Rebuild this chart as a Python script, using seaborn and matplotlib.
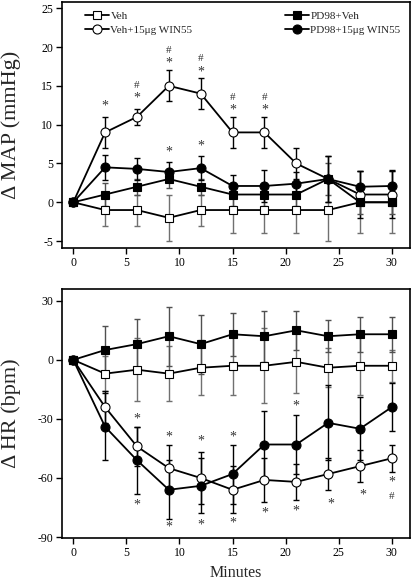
import numpy as np
import pandas as pd
import matplotlib
matplotlib.use("Agg")
import matplotlib.pyplot as plt
import seaborn as sns
from matplotlib.lines import Line2D

minutes = [0, 3, 6, 9, 12, 15, 18, 21, 24, 27, 30]
series_names = ["Veh", "Veh+15\u03bcg WIN55", "PD98+Veh", "PD98+15\u03bcg WIN55"]

# MAP (mmHg)
map_veh = [0, -1, -1, -2, -1, -1, -1, -1, -1, 0, 0]
map_veh_err = [0, 2, 2, 3, 2, 3, 3, 3, 4, 4, 4]
map_win = [0, 9, 11, 15, 14, 9, 9, 5, 3, 1, 1]
map_win_err = [0, 2, 1, 2, 2, 2, 2, 2, 3, 3, 3]
map_pd = [0, 1, 2, 3, 2, 1, 1, 1, 3, 0, 0]
map_pd_err = [0, 1.5, 1, 1.2, 1, 1.5, 1.5, 1.5, 2, 1.5, 1.5]
map_pdwin = [0, 4.5, 4.3, 3.9, 4.4, 2.1, 2.1, 2.4, 3, 2, 2.1]
map_pdwin_err = [0, 1.6, 1.4, 1.3, 1.5, 1.4, 2, 1.5, 3, 2, 2]

# HR (bpm)
hr_veh = [0, -7, -5, -7, -4, -3, -3, -1, -4, -3, -3]
hr_veh_err = [0, 9, 16, 14, 14, 15, 19, 16, 10, 15, 8]
hr_win = [0, -24, -44, -55, -60, -66, -61, -62, -58, -54, -50]
hr_win_err = [0, 8, 10, 12, 13, 12, 11, 9, 8, 8, 7]
hr_pd = [0, 5, 8, 12, 8, 13, 12, 15, 12, 13, 13]
hr_pd_err = [0, 12, 13, 15, 15, 11, 13, 10, 8, 9, 9]
hr_pdwin = [0, -34, -51, -66, -64, -58, -43, -43, -32, -35, -24]
hr_pdwin_err = [0, 17, 17, 15, 14, 15, 17, 15, 19, 16, 12]

# significance marks: (minute, value, symbol)
map_marks = [(3, 12.4, "*"), (6, 13.4, "*"), (6, 15.1, "#"), (9, 17.9, "*"), (9, 19.6, "#"),
             (12, 16.8, "*"), (12, 18.5, "#"), (15, 11.9, "*"), (15, 13.5, "#"),
             (18, 11.9, "*"), (18, 13.5, "#"), (9, 6.5, "*"), (12, 7.3, "*")]
hr_marks = [(6, -30, "*"), (6, -74, "*"), (9, -39, "*"), (9, -85, "*"), (12, -41.4, "*"),
            (12, -83.7, "*"), (15, -39, "*"), (15, -83, "*"), (18, -77.8, "*"),
            (21, -23.6, "*"), (21, -77, "*"), (24.3, -73.5, "*"), (27.3, -68.5, "*"),
            (30, -62.2, "*"), (30, -69.3, "#")]

sns.set_theme(style="white")
plt.rcParams["font.family"] = ["Liberation Serif", "DejaVu Serif"]
plt.rcParams["axes.unicode_minus"] = False

fig = plt.figure(figsize=(4.14, 5.81), dpi=100)
ax1 = fig.add_axes([0.150, 0.573, 0.840, 0.4236])
ax2 = fig.add_axes([0.150, 0.074, 0.840, 0.4286])

styles = {
    "Veh": dict(marker="s", mfc="white", ms=5.2, ecol="#707070"),
    "Veh+15\u03bcg WIN55": dict(marker="o", mfc="white", ms=6.5, ecol="black"),
    "PD98+Veh": dict(marker="s", mfc="black", ms=5.2, ecol="#505050"),
    "PD98+15\u03bcg WIN55": dict(marker="o", mfc="black", ms=6.5, ecol="black"),
}

def draw(ax, vals, errs, order):
    for name in order:
        st = styles[name]
        ax.errorbar(minutes, vals[name], yerr=errs[name], fmt="none", ecolor=st["ecol"],
                    elinewidth=1.0, capsize=2.5, capthick=1.0, zorder=2)
    for name in order:
        df = pd.DataFrame({"Minutes": minutes, "val": vals[name]})
        st = styles[name]
        sns.lineplot(data=df, x="Minutes", y="val", ax=ax, color="black", linewidth=1.3,
                     marker=st["marker"], markersize=st["ms"], markerfacecolor=st["mfc"],
                     markeredgecolor="black", markeredgewidth=0.8, zorder=3, legend=False)

draw(ax1, dict(zip(series_names, [map_veh, map_win, map_pd, map_pdwin])),
     dict(zip(series_names, [map_veh_err, map_win_err, map_pd_err, map_pdwin_err])),
     series_names)
draw(ax2, dict(zip(series_names, [hr_veh, hr_win, hr_pd, hr_pdwin])),
     dict(zip(series_names, [hr_veh_err, hr_win_err, hr_pd_err, hr_pdwin_err])),
     series_names)

for ax in (ax1, ax2):
    ax.set_xlim(-1.05, 31.7)
    ax.set_xticks([0, 5, 10, 15, 20, 25, 30])
    for s in ax.spines.values():
        s.set_color("black")
        s.set_linewidth(1.2)
    ax.tick_params(direction="out", length=4, width=1.0, labelsize=8.5, colors="black",
                   left=True, bottom=True, pad=2.5)

ax1.set_ylim(-5.9, 25.8)
ax1.set_yticks([-5, 0, 5, 10, 15, 20, 25])
ax2.set_ylim(-90.5, 36)
ax2.set_yticks([-90, -60, -30, 0, 30])

ax1.set_xlabel("")
ax1.set_ylabel("\u0394 MAP (mmHg)", fontsize=16)
ax1.yaxis.set_label_coords(-0.118, 0.5)
ax2.set_ylabel("\u0394 HR (bpm)", fontsize=16)
ax2.yaxis.set_label_coords(-0.118, 0.5)
ax2.set_xlabel("Minutes", fontsize=11.5)
ax2.xaxis.set_label_coords(0.5, -0.107)

for ax, marks in ((ax1, map_marks), (ax2, hr_marks)):
    for x, y, s in marks:
        ax.text(x, y, s, ha="center", va="center", fontsize=10 if s == "*" else 8,
                color="#333333", zorder=4)

def handle(name):
    st = styles[name]
    return Line2D([], [], color="black", linewidth=1.3, marker=st["marker"],
                  markersize=st["ms"], markerfacecolor=st["mfc"], markeredgecolor="black",
                  markeredgewidth=0.8)

leg_kw = dict(loc="upper left", frameon=False, fontsize=8, handlelength=2.2,
              handletextpad=0.1, labelspacing=0.4, borderaxespad=0.4)
leg1 = ax1.legend([handle(n) for n in series_names[:2]], series_names[:2],
                  bbox_to_anchor=(0.04, 1.0), **leg_kw)
ax1.add_artist(leg1)
ax1.legend([handle(n) for n in series_names[2:]], series_names[2:],
           bbox_to_anchor=(0.615, 1.0), **leg_kw)

fig.savefig("out.png", dpi=100)
